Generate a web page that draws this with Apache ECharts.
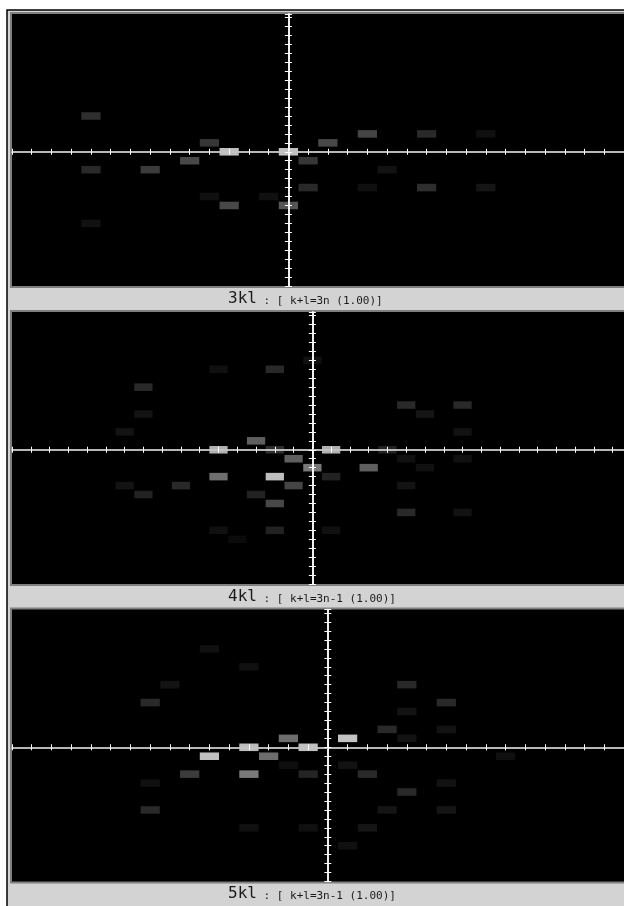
<!DOCTYPE html>
<html>
<head>
<meta charset="utf-8">
<script src="https://cdn.jsdelivr.net/npm/echarts@6/dist/echarts.min.js"></script>
<style>
  html, body { margin: 0; padding: 0; background: #fff; }
  #chart { width: 624px; height: 906px; }
</style>
</head>
<body>
<div id="chart"></div>
<script>
// ── Data: reflections as [h, l, grey level 0-255] ──────────
const refl3kl = [
  [-10, 4, 58], [-4, 1, 68], [-3, 0, 240], [0, 0, 240], [-5, -1, 90],
  [-10, -2, 51], [-7, -2, 74], [-4, -5, 20], [-1, -5, 20], [-3, -6, 90],
  [0, -6, 106], [-10, -8, 21], [1, -1, 68], [1, -4, 51], [2, 1, 90],
  [4, 2, 85], [7, 2, 51], [10, 2, 20], [5, -2, 22], [4, -4, 20],
  [7, -4, 58], [10, -4, 26]
];

const refl4kl = [
  [-5, 9, 20], [-2, 9, 51], [0, 10, 20], [-9, 7, 51], [-9, 4, 24],
  [-10, 2, 24], [-3, 1, 119], [-5, 0, 221], [-2, 0, 58], [-1, -1, 119],
  [0, -2, 150], [-5, -3, 138], [-2, -3, 238], [-1, -4, 85], [-10, -4, 24],
  [-7, -4, 51], [-9, -5, 42], [-3, -5, 42], [-2, -6, 90], [-5, -9, 20],
  [-2, -9, 42], [-4, -10, 14], [5, 5, 51], [6, 4, 26], [8, 5, 51],
  [8, 2, 22], [1, 0, 221], [4, 0, 42], [5, -1, 20], [8, -1, 20],
  [3, -2, 119], [6, -2, 20], [1, -3, 42], [5, -4, 24], [5, -7, 51],
  [8, -7, 22], [1, -9, 20]
];

const refl5kl = [
  [-6, 11, 20], [-4, 9, 20], [-8, 7, 24], [-9, 5, 51], [-2, 1, 136],
  [-4, 0, 238], [-1, 0, 240], [-6, -1, 240], [-3, -1, 136], [-2, -2, 17],
  [-7, -3, 74], [-4, -3, 153], [-1, -3, 45], [-9, -4, 20], [-9, -7, 51],
  [-4, -9, 20], [-1, -9, 20], [1, 1, 244], [3, 2, 51], [4, 1, 24],
  [4, 7, 51], [6, 5, 51], [4, 4, 24], [6, 2, 24], [9, -1, 20],
  [1, -2, 22], [2, -3, 51], [6, -4, 22], [4, -5, 51], [3, -7, 26],
  [6, -7, 26], [2, -9, 26], [1, -11, 20]
];

const panelNames = ['3kl', '4kl', '5kl'];
const panelRules = [': [ k+l=3n (1.00)]', ': [ k+l=3n-1 (1.00)]', ': [ k+l=3n-1 (1.00)]'];
const panelData  = [refl3kl, refl4kl, refl5kl];
const hRanges    = [[-14, 17], [-16, 16.6], [-16, 15]];
const lRange     = [-15, 15.4];

// ── Layout ─────────────────────────────────────────────────
const GRID_LEFT  = 12;
const GRID_W     = 612;
const GRID_H     = 272;
const GRID_TOPS  = [14, 312, 609.5];
const MONO       = "'DejaVu Sans Mono', 'Liberation Mono', monospace";

const chart = echarts.init(document.getElementById('chart'));

const grids = [], xAxes = [], yAxes = [], series = [], titles = [];
const graphics = [
  { type: 'rect', shape: { x: 0, y: 0, width: 624, height: 906 }, style: { fill: '#fff' }, z: -20 },
  { type: 'rect', shape: { x: 7, y: 10, width: 630, height: 910 },
    style: { fill: '#d3d3d3', stroke: '#000', lineWidth: 1.5 }, z: -19 },
];

panelData.forEach((data, i) => {
  const top = GRID_TOPS[i];
  const [hMin, hMax] = hRanges[i];
  const dx = GRID_W / (hMax - hMin);
  const dy = GRID_H / (lRange[1] - lRange[0]);

  graphics.push(
    { type: 'rect', shape: { x: 10, y: top - 2, width: 620, height: GRID_H + 4 },
      style: { fill: '#7f7f7f' }, z: -18 },
    { type: 'rect', shape: { x: GRID_LEFT, y: top, width: 620, height: GRID_H },
      style: { fill: '#000' }, z: -17 }
  );

  grids.push({ left: GRID_LEFT, top: top, width: GRID_W, height: GRID_H, show: false });

  // two x axes on zero (ticks up + ticks down) give the crossing ticks
  ['bottom', 'top'].forEach(pos => {
    xAxes.push({
      gridIndex: i, type: 'value', position: pos,
      min: hMin, max: hMax, interval: 1, z: 10,
      axisLine:  { onZero: true, lineStyle: { color: '#c4c4c4', width: 1.5 } },
      axisTick:  { inside: true, length: 3, lineStyle: { color: '#fff', width: 1 } },
      axisLabel: { show: false },
      splitLine: { show: false },
    });
  });
  ['left', 'right'].forEach(pos => {
    yAxes.push({
      gridIndex: i, type: 'value', position: pos,
      min: lRange[0], max: lRange[1], interval: 1, z: 10,
      axisLine:  { onZero: true, lineStyle: { color: '#fff', width: 1.5 } },
      axisTick:  { inside: true, length: 3.5, lineStyle: { color: '#fff', width: 1 } },
      axisLabel: { show: false },
      splitLine: { show: false },
    });
  });

  series.push({
    type: 'scatter',
    xAxisIndex: i * 2, yAxisIndex: i * 2,
    symbol: 'rect',
    symbolSize: [dx - 0.5, dy - 1.4],
    data: data,
    z: 5,
    silent: true,
    animation: false,
  });

  titles.push({
    text: '{big|' + panelNames[i] + '}{small| ' + panelRules[i] + '}',
    left: 228, top: top + GRID_H + 2.5, padding: 0,
    textStyle: {
      fontWeight: 'normal',
      rich: {
        big:   { fontFamily: MONO, fontSize: 16, fontWeight: 'normal', color: '#1a1a1a', lineHeight: 18, verticalAlign: 'bottom' },
        small: { fontFamily: MONO, fontSize: 11, fontWeight: 'normal', color: '#1a1a1a', lineHeight: 18, verticalAlign: 'bottom' },
      },
    },
  });
});

chart.setOption({
  animation: false,
  backgroundColor: '#fff',
  graphic: { elements: graphics },
  title: titles,
  grid: grids,
  xAxis: xAxes,
  yAxis: yAxes,
  visualMap: {
    type: 'continuous', show: false, min: 0, max: 255, dimension: 2,
    seriesIndex: [0, 1, 2],
    inRange: { color: ['#000000', '#ffffff'] },
  },
  series: series,
});
</script>
</body>
</html>
